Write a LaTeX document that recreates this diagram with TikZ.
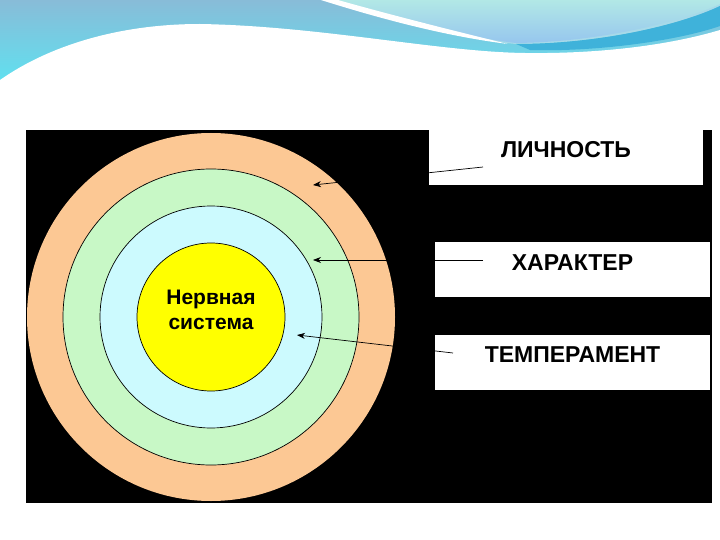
\documentclass[tikz,border=0pt]{standalone}
\usepackage{fontspec}
\setmainfont{Liberation Sans}
\usetikzlibrary{arrows.meta}
\definecolor{wavetop}{HTML}{88BCD8}
\definecolor{wavebot}{HTML}{5CE4F2}
\definecolor{bubbletop}{HTML}{B2E8E6}
\definecolor{bubblebot}{HTML}{96C6EE}
\definecolor{waveband}{HTML}{3FB2DA}
\definecolor{ringorange}{HTML}{FCC894}
\definecolor{ringgreen}{HTML}{C8F8C6}
\definecolor{ringblue}{HTML}{CCFAFE}
\definecolor{coreyellow}{HTML}{FFFF00}
\tikzset{
  ring/.style={circle,draw=black,line width=0.7pt,inner sep=0pt},
  coretext/.style={align=center,font=\fontsize{21}{25}\selectfont\bfseries,yshift=7pt},
  labelbox/.style={fill=white,inner xsep=0pt,inner ysep=0pt,text height=28pt,text depth=27pt,
    font=\fontsize{23}{27}\selectfont\bfseries},
  pointer/.style={->,line width=0.7pt}
}
\begin{document}
\begin{tikzpicture}[x=1pt,y=-1pt,>={Stealth[length=8pt,width=6pt]}]
\useasboundingbox (0,0) rectangle (720,540);
\fill[white] (0,0) rectangle (720,540);
% wave at the top
\shade[top color=wavetop,bottom color=wavebot] (0,0) rectangle (720,90);
\fill[bubbletop!60!bubblebot] (321,0) .. controls (400,22) and (470,40) .. (516,44)
  .. controls (600,44) and (680,25) .. (720,6) -- (720,0) -- cycle;
\shade[top color=bubbletop,bottom color=bubblebot] (330,0) .. controls (405,20) and (470,38) .. (516,43)
  .. controls (600,42) and (680,22) .. (720,4) -- (720,0) -- cycle;
\fill[white] (321,0) .. controls (400,25) and (460,38) .. (508,44)
  .. controls (450,30) and (380,12) .. (338,0) -- cycle;
\fill[waveband] (516,44) .. controls (600,44) and (680,25) .. (720,6) -- (720,26)
  .. controls (680,40) and (600,52) .. (530,50) -- cycle;
\fill[white] (0,80) .. controls (50,45) and (120,24) .. (200,24)
  .. controls (320,26) and (440,52) .. (525,53)
  .. controls (600,54) and (670,45) .. (720,30) -- (720,100) -- (0,100) -- cycle;
% black panel
\fill[black] (26,130) rectangle (712,503);
% rings
\fill[ringorange] (211,317) circle (184);
\node[ring,fill=ringgreen,minimum size=296pt] (green) at (211,317) {};
\node[ring,fill=ringblue,minimum size=222pt] (blue) at (211,317) {};
\node[ring,fill=coreyellow,minimum size=148pt,
  label={[coretext]center:Нервная\\система}] (core) at (211,317) {};
% label boxes
\node[labelbox,minimum width=274pt] (lichnost) at (566,157.5) {ЛИЧНОСТЬ};
\node[labelbox,minimum width=275pt] (harakter) at (572.5,269.5) {ХАРАКТЕР};
\node[labelbox,minimum width=275pt] (temperament) at (572.5,362) {ТЕМПЕРАМЕНТ};
% pointers
\coordinate (lichnost-tail) at (483,167);
\coordinate (harakter-tail) at (483,260);
\coordinate (temperament-tail) at (453,353);
\coordinate (orange-pt) at (313,185);
\coordinate (green-pt) at (313,260);
\coordinate (blue-pt) at (297,335);
\draw[pointer] (lichnost-tail) -- (orange-pt);
\draw[pointer] (harakter-tail) -- (green-pt);
\draw[pointer] (temperament-tail) -- (blue-pt);
\end{tikzpicture}
\end{document}
